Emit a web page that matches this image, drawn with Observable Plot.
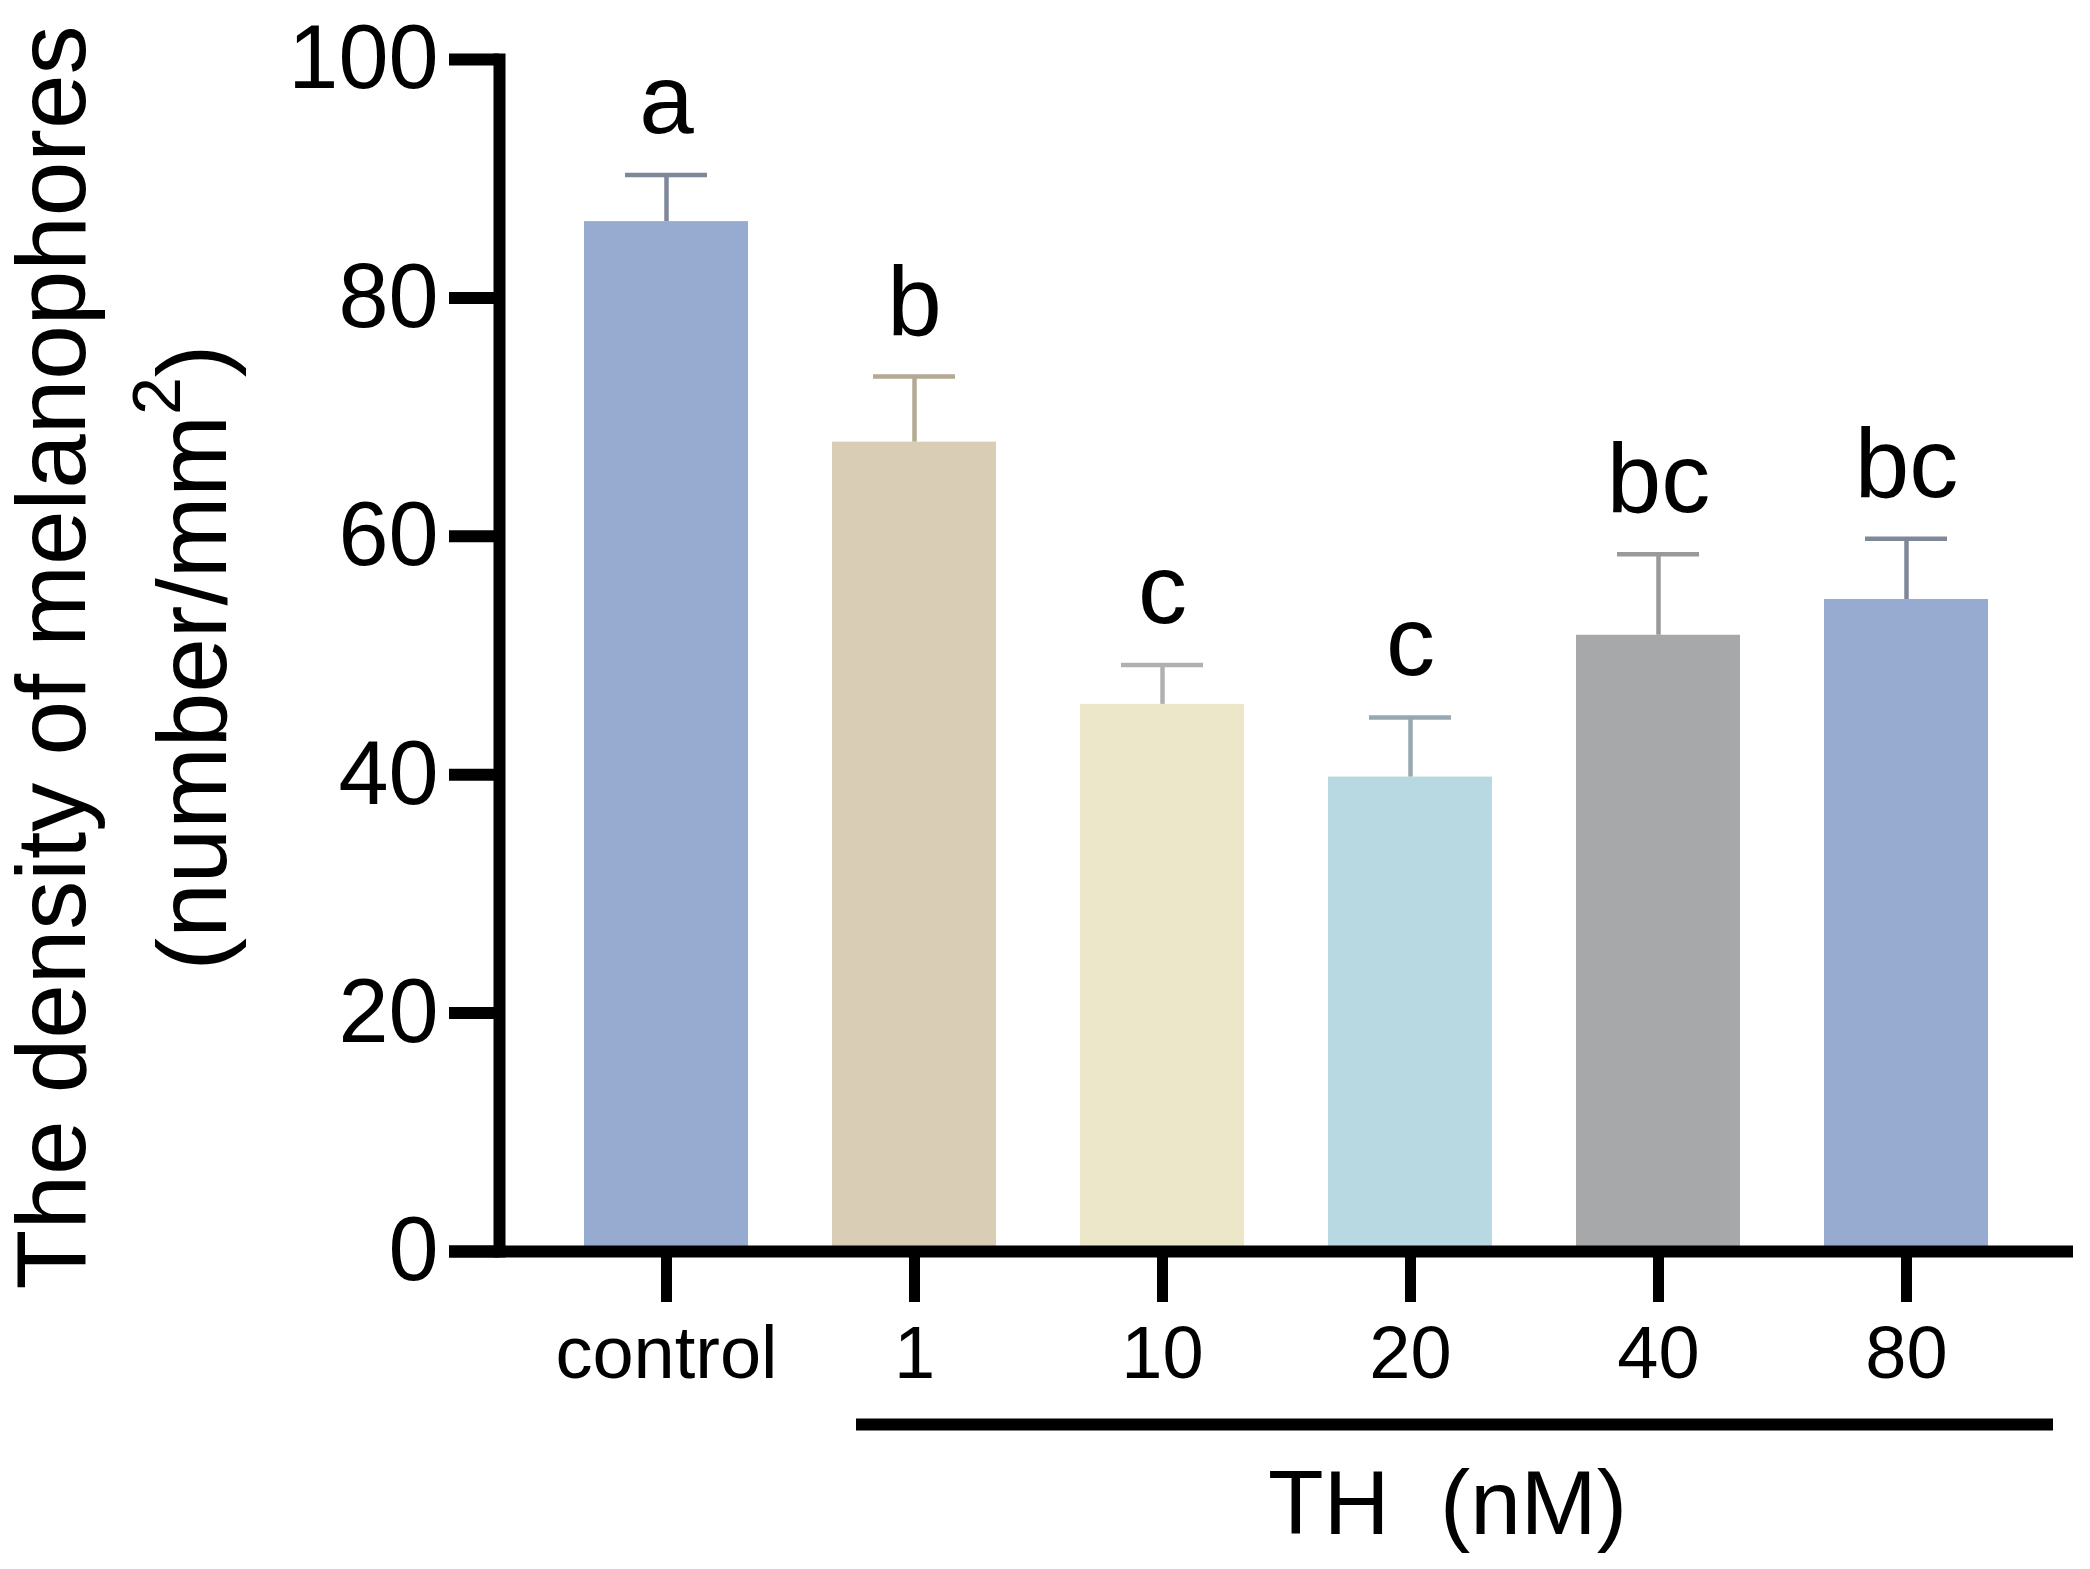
<!DOCTYPE html>
<html>
<head>
<meta charset="utf-8">
<script src="https://cdn.jsdelivr.net/npm/d3@7"></script>
<script src="https://cdn.jsdelivr.net/npm/@observablehq/plot@0.6"></script>
<style>
  html, body { margin: 0; padding: 0; background: #fff; }
  svg { display: block; }
</style>
</head>
<body>
<div id="chart"></div>
<script>
// ---- data ----
const groups = ["control", "1", "10", "20", "40", "80"];
const means = [86.4, 67.9, 45.9, 39.8, 51.7, 54.7];
const errors = [3.9, 5.5, 3.3, 5.0, 6.8, 5.1];   // upper error (SEM)
const letters = ["a", "b", "c", "c", "bc", "bc"];
const barColors = ["#97abd1", "#d9cdb6", "#ede7ca", "#b8d8e2", "#a7a8aa", "#97abd1"];
const errColors = ["#7f8899", "#b4a993", "#b0b0ae", "#98a8b0", "#999999", "#7f8899"];
const yTicks = [0, 20, 40, 60, 80, 100];
const yLabel = "The density of melanophores\n(number/mm²)";
const xGroupLabel = "TH\u00a0\u00a0(nM)";
const bracket = [{y: 0, from: groups[1], to: groups[groups.length - 1]}];

const data = groups.map((g, i) => ({
  group: g, mean: means[i], upper: means[i] + errors[i],
  letter: letters[i], color: barColors[i], ecolor: errColors[i]
}));

const font = "'Liberation Sans', Arial, Helvetica, sans-serif";

const chart = Plot.plot({
  width: 2090,
  height: 1569,
  marginLeft: 499,
  marginRight: 17,
  marginTop: 59,
  marginBottom: 318,
  style: {fontFamily: font, color: "black", background: "white"},
  x: {domain: groups, padding: 0.34, label: null},
  y: {domain: [0, 100], label: null},
  marks: [
    Plot.barY(data, {x: "group", y: "mean", fill: "color"}),
    Plot.ruleX(data, {x: "group", y1: "mean", y2: "upper", stroke: "ecolor", strokeWidth: 4.5}),
    Plot.tickY(data, {x: "group", y: "upper", stroke: "ecolor", strokeWidth: 4.5, insetLeft: 41, insetRight: 41}),
    Plot.text(data, {x: "group", y: "upper", text: "letter", dy: -42, lineAnchor: "bottom", fontSize: 98, fill: "black"}),
    Plot.axisY({ticks: yTicks, tickFormat: d => String(d), tickSize: 50, tickPadding: 11, strokeWidth: 12, fontSize: 90, label: null}),
    Plot.axisX({tickSize: 51, tickPadding: 23, strokeWidth: 11, fontSize: 74, label: null}),
    Plot.ruleY([0], {strokeWidth: 12, insetLeft: -50}),
    Plot.frame({anchor: "left", strokeWidth: 12, strokeLinecap: "square"}),
    Plot.ruleY(bracket, {y: "y", x1: "from", x2: "to", dy: 173, insetLeft: 24, insetRight: -65, strokeWidth: 12}),
    Plot.text([xGroupLabel], {frameAnchor: "bottom", text: d => d, dx: 161, dy: 282, lineAnchor: "bottom", fontSize: 91, fill: "black"}),
    Plot.text([yLabel], {frameAnchor: "left", text: d => d, rotate: -90, textAnchor: "middle", lineAnchor: "top", lineHeight: 1.44, dx: -515, dy: 2, fontSize: 98, fill: "black"})
  ]
});

document.getElementById("chart").appendChild(chart);

// render the superscript 2 of mm² as a raised, smaller digit
chart.querySelectorAll("tspan").forEach(t => {
  if (t.textContent === "(number/mm²)") {
    t.textContent = "(number/mm";
    const sup = document.createElementNS("http://www.w3.org/2000/svg", "tspan");
    sup.setAttribute("dy", "-46");
    sup.setAttribute("font-size", "68");
    sup.textContent = "2";
    const close = document.createElementNS("http://www.w3.org/2000/svg", "tspan");
    close.setAttribute("dy", "46");
    close.textContent = ")";
    t.after(sup, close);
  }
});
</script>
</body>
</html>
